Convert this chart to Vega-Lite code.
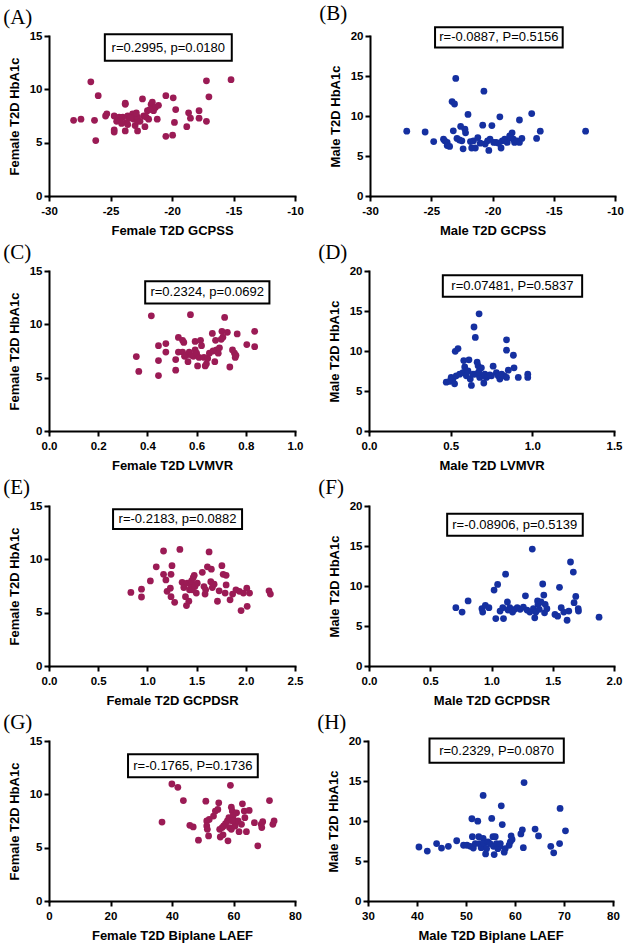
{
  "$schema": "https://vega.github.io/schema/vega-lite/v6.json",
  "padding": {"left": 3, "top": 3, "right": 2, "bottom": 2},
  "background": "white",
  "config": {
    "view": {"stroke": null},
    "font": "Liberation Sans",
    "axis": {"grid": false, "domainColor": "black", "domainWidth": 2, "domainCap": "square", "tickColor": "black", "tickWidth": 2, "tickSize": 5, "labelFont": "Liberation Sans", "labelFontSize": 11.5, "labelFontWeight": "bold", "labelColor": "black", "labelPadding": 2, "titleFont": "Liberation Sans", "titleFontSize": 13, "titleFontWeight": "bold", "titleColor": "black", "labelFlush": false, "labelOverlap": false},
    "axisX": {"titlePadding": 8, "labelPadding": 4},
    "axisY": {"titlePadding": 8},
    "title": {"font": "Liberation Serif", "fontSize": 21, "fontWeight": "normal", "color": "black", "anchor": "start", "frame": "bounds", "offset": 2}
  },
  "datasets": {
    "A": [{"x":-28.0,"y":7.1},{"x":-27.4,"y":7.2},{"x":-26.6,"y":10.7},{"x":-26.3,"y":7.1},{"x":-26.2,"y":5.2},{"x":-26.0,"y":9.4},{"x":-25.4,"y":7.5},{"x":-25.3,"y":7.7},{"x":-24.7,"y":7.5},{"x":-24.7,"y":6.2},{"x":-24.7,"y":6.0},{"x":-24.3,"y":7.4},{"x":-24.2,"y":7.1},{"x":-24.0,"y":7.4},{"x":-23.8,"y":8.7},{"x":-23.8,"y":8.6},{"x":-23.8,"y":6.1},{"x":-23.7,"y":6.9},{"x":-23.6,"y":6.7},{"x":-23.6,"y":7.5},{"x":-23.2,"y":7.7},{"x":-23.1,"y":7.2},{"x":-23.0,"y":7.5},{"x":-23.0,"y":6.6},{"x":-22.8,"y":6.1},{"x":-22.8,"y":7.0},{"x":-22.8,"y":7.4},{"x":-22.4,"y":9.1},{"x":-22.3,"y":7.5},{"x":-22.2,"y":6.5},{"x":-22.1,"y":7.4},{"x":-22.0,"y":8.0},{"x":-21.9,"y":7.2},{"x":-21.7,"y":8.6},{"x":-21.6,"y":8.8},{"x":-21.5,"y":8.0},{"x":-21.35,"y":8.3},{"x":-21.2,"y":7.2},{"x":-21.1,"y":8.5},{"x":-20.5,"y":9.4},{"x":-20.5,"y":5.6},{"x":-19.95,"y":5.7},{"x":-19.9,"y":9.2},{"x":-19.8,"y":6.9},{"x":-19.7,"y":8.1},{"x":-18.8,"y":6.5},{"x":-18.65,"y":7.8},{"x":-18.5,"y":7.3},{"x":-17.8,"y":8.0},{"x":-17.8,"y":7.3},{"x":-17.2,"y":10.8},{"x":-17.2,"y":7.0},{"x":-17.0,"y":9.3},{"x":-15.2,"y":10.9},{"x":-24.5,"y":7.0},{"x":-23.4,"y":7.3},{"x":-22.6,"y":7.0},{"x":-24.1,"y":6.8},{"x":-22.9,"y":7.8},{"x":-21.8,"y":8.1}],
    "B": [{"x":-27.0,"y":8.1},{"x":-25.5,"y":8.0},{"x":-24.8,"y":6.8},{"x":-24.0,"y":7.1},{"x":-23.9,"y":6.9},{"x":-23.7,"y":6.7},{"x":-23.7,"y":6.3},{"x":-23.5,"y":6.2},{"x":-23.3,"y":11.8},{"x":-23.1,"y":11.5},{"x":-23.2,"y":8.15},{"x":-23.0,"y":14.7},{"x":-22.9,"y":7.2},{"x":-22.6,"y":8.7},{"x":-22.5,"y":6.9},{"x":-22.4,"y":5.9},{"x":-22.25,"y":8.35},{"x":-22.2,"y":7.9},{"x":-22.0,"y":10.2},{"x":-21.8,"y":6.8},{"x":-21.7,"y":6.0},{"x":-21.55,"y":6.9},{"x":-21.4,"y":6.0},{"x":-21.2,"y":7.3},{"x":-20.8,"y":8.85},{"x":-20.7,"y":13.1},{"x":-20.6,"y":6.5},{"x":-20.3,"y":5.7},{"x":-20.2,"y":7.1},{"x":-20.05,"y":8.8},{"x":-19.9,"y":6.7},{"x":-19.7,"y":6.7},{"x":-19.4,"y":9.9},{"x":-19.3,"y":6.0},{"x":-19.2,"y":6.9},{"x":-19.0,"y":7.1},{"x":-18.8,"y":6.7},{"x":-18.6,"y":7.5},{"x":-18.4,"y":7.9},{"x":-18.3,"y":7.1},{"x":-18.2,"y":6.7},{"x":-18.0,"y":6.9},{"x":-17.8,"y":9.5},{"x":-17.8,"y":6.7},{"x":-17.6,"y":7.2},{"x":-16.8,"y":10.3},{"x":-16.4,"y":7.2},{"x":-16.1,"y":8.1},{"x":-12.4,"y":8.1},{"x":-21.0,"y":6.6},{"x":-19.5,"y":6.6},{"x":-18.5,"y":7.3},{"x":-22.7,"y":7.0},{"x":-20.4,"y":6.9}],
    "C": [{"x":0.355,"y":6.98},{"x":0.365,"y":5.58},{"x":0.416,"y":10.8},{"x":0.445,"y":8.0},{"x":0.445,"y":6.6},{"x":0.445,"y":5.2},{"x":0.475,"y":8.2},{"x":0.475,"y":7.4},{"x":0.515,"y":6.7},{"x":0.515,"y":5.7},{"x":0.526,"y":8.77},{"x":0.526,"y":7.4},{"x":0.543,"y":8.5},{"x":0.548,"y":8.3},{"x":0.543,"y":7.4},{"x":0.551,"y":7.0},{"x":0.558,"y":7.1},{"x":0.565,"y":6.5},{"x":0.57,"y":7.4},{"x":0.575,"y":10.9},{"x":0.58,"y":7.1},{"x":0.587,"y":7.0},{"x":0.594,"y":8.4},{"x":0.594,"y":7.6},{"x":0.6,"y":7.3},{"x":0.604,"y":6.1},{"x":0.61,"y":6.9},{"x":0.616,"y":8.5},{"x":0.62,"y":8.0},{"x":0.63,"y":6.9},{"x":0.635,"y":6.1},{"x":0.64,"y":6.3},{"x":0.645,"y":6.8},{"x":0.652,"y":7.3},{"x":0.664,"y":9.15},{"x":0.667,"y":7.5},{"x":0.674,"y":6.5},{"x":0.677,"y":8.5},{"x":0.681,"y":7.6},{"x":0.688,"y":7.3},{"x":0.693,"y":7.8},{"x":0.7,"y":8.6},{"x":0.703,"y":9.35},{"x":0.707,"y":8.8},{"x":0.714,"y":10.65},{"x":0.725,"y":9.25},{"x":0.735,"y":6.0},{"x":0.746,"y":7.6},{"x":0.754,"y":7.3},{"x":0.757,"y":6.9},{"x":0.765,"y":9.1},{"x":0.76,"y":7.1},{"x":0.804,"y":8.1},{"x":0.836,"y":9.35},{"x":0.836,"y":7.9}],
    "D": [{"x":0.473,"y":6.1},{"x":0.493,"y":6.2},{"x":0.503,"y":6.7},{"x":0.514,"y":6.5},{"x":0.524,"y":5.9},{"x":0.528,"y":9.96},{"x":0.545,"y":10.3},{"x":0.534,"y":6.9},{"x":0.555,"y":7.1},{"x":0.575,"y":7.3},{"x":0.58,"y":8.8},{"x":0.586,"y":8.0},{"x":0.596,"y":6.9},{"x":0.606,"y":7.5},{"x":0.612,"y":8.9},{"x":0.62,"y":6.5},{"x":0.627,"y":5.7},{"x":0.637,"y":7.1},{"x":0.643,"y":13.0},{"x":0.651,"y":11.7},{"x":0.651,"y":7.1},{"x":0.662,"y":8.6},{"x":0.668,"y":8.15},{"x":0.674,"y":14.65},{"x":0.678,"y":6.7},{"x":0.688,"y":7.9},{"x":0.699,"y":6.9},{"x":0.703,"y":6.0},{"x":0.709,"y":7.1},{"x":0.719,"y":6.7},{"x":0.729,"y":6.9},{"x":0.75,"y":6.9},{"x":0.76,"y":8.1},{"x":0.78,"y":7.3},{"x":0.791,"y":6.9},{"x":0.801,"y":6.5},{"x":0.812,"y":7.1},{"x":0.828,"y":6.9},{"x":0.842,"y":11.4},{"x":0.842,"y":10.1},{"x":0.853,"y":7.6},{"x":0.884,"y":9.47},{"x":0.888,"y":7.9},{"x":0.914,"y":6.7},{"x":0.972,"y":7.1},{"x":0.972,"y":6.7},{"x":0.842,"y":6.7},{"x":0.672,"y":7.4},{"x":0.74,"y":7.0}],
    "E": [{"x":0.832,"y":6.9},{"x":0.94,"y":7.2},{"x":0.94,"y":6.47},{"x":1.03,"y":7.98},{"x":1.09,"y":9.3},{"x":1.164,"y":10.78},{"x":1.164,"y":8.6},{"x":1.188,"y":8.07},{"x":1.2,"y":7.0},{"x":1.233,"y":7.3},{"x":1.24,"y":8.6},{"x":1.25,"y":9.4},{"x":1.24,"y":6.5},{"x":1.277,"y":5.97},{"x":1.33,"y":10.93},{"x":1.353,"y":7.85},{"x":1.37,"y":7.36},{"x":1.387,"y":6.5},{"x":1.397,"y":5.67},{"x":1.404,"y":7.76},{"x":1.421,"y":6.07},{"x":1.428,"y":7.14},{"x":1.438,"y":7.67},{"x":1.449,"y":7.98},{"x":1.455,"y":7.14},{"x":1.466,"y":8.29},{"x":1.476,"y":8.5},{"x":1.483,"y":7.45},{"x":1.497,"y":6.84},{"x":1.507,"y":7.76},{"x":1.558,"y":8.78},{"x":1.575,"y":7.45},{"x":1.586,"y":6.74},{"x":1.592,"y":7.14},{"x":1.61,"y":9.3},{"x":1.627,"y":10.69},{"x":1.644,"y":7.9},{"x":1.65,"y":9.08},{"x":1.66,"y":7.36},{"x":1.678,"y":7.67},{"x":1.712,"y":6.07},{"x":1.729,"y":7.05},{"x":1.757,"y":9.4},{"x":1.77,"y":8.6},{"x":1.8,"y":8.5},{"x":1.8,"y":7.6},{"x":1.79,"y":6.84},{"x":1.84,"y":6.2},{"x":1.866,"y":6.74},{"x":1.9,"y":7.14},{"x":1.935,"y":7.0},{"x":1.952,"y":5.2},{"x":1.976,"y":6.84},{"x":2.01,"y":7.3},{"x":2.014,"y":5.6},{"x":2.038,"y":6.84},{"x":2.236,"y":7.05},{"x":2.25,"y":6.74}],
    "F": [{"x":0.709,"y":7.29},{"x":0.76,"y":6.74},{"x":0.809,"y":8.14},{"x":0.922,"y":7.16},{"x":0.928,"y":6.74},{"x":0.95,"y":7.58},{"x":0.979,"y":7.29},{"x":1.021,"y":9.49},{"x":1.05,"y":10.2},{"x":1.035,"y":5.93},{"x":1.07,"y":6.86},{"x":1.092,"y":7.29},{"x":1.098,"y":5.93},{"x":1.115,"y":11.48},{"x":1.13,"y":8.0},{"x":1.135,"y":6.99},{"x":1.149,"y":7.29},{"x":1.172,"y":6.74},{"x":1.19,"y":7.08},{"x":1.21,"y":7.29},{"x":1.234,"y":7.08},{"x":1.26,"y":7.37},{"x":1.277,"y":8.77},{"x":1.29,"y":6.99},{"x":1.313,"y":6.74},{"x":1.333,"y":14.62},{"x":1.342,"y":7.16},{"x":1.353,"y":6.02},{"x":1.362,"y":6.74},{"x":1.376,"y":8.14},{"x":1.38,"y":7.71},{"x":1.39,"y":7.08},{"x":1.404,"y":8.0},{"x":1.418,"y":10.25},{"x":1.427,"y":8.86},{"x":1.433,"y":6.65},{"x":1.438,"y":7.71},{"x":1.452,"y":7.16},{"x":1.518,"y":6.44},{"x":1.54,"y":6.23},{"x":1.555,"y":9.83},{"x":1.569,"y":7.29},{"x":1.59,"y":6.74},{"x":1.617,"y":5.72},{"x":1.631,"y":6.86},{"x":1.645,"y":13.0},{"x":1.668,"y":11.74},{"x":1.674,"y":7.92},{"x":1.688,"y":8.69},{"x":1.708,"y":7.16},{"x":1.71,"y":6.86},{"x":1.878,"y":6.1}],
    "G": [{"x":36.75,"y":7.4},{"x":39.96,"y":10.97},{"x":41.9,"y":10.66},{"x":43.7,"y":9.42},{"x":45.8,"y":7.1},{"x":46.9,"y":6.94},{"x":48.6,"y":5.7},{"x":51.0,"y":9.36},{"x":51.3,"y":7.5},{"x":51.3,"y":7.03},{"x":51.5,"y":6.72},{"x":51.9,"y":6.1},{"x":52.1,"y":7.65},{"x":53.5,"y":7.96},{"x":54.1,"y":8.43},{"x":54.9,"y":8.58},{"x":55.2,"y":9.2},{"x":55.5,"y":6.72},{"x":55.7,"y":6.0},{"x":56.3,"y":6.88},{"x":56.6,"y":6.2},{"x":56.8,"y":7.03},{"x":57.4,"y":7.25},{"x":58.0,"y":7.5},{"x":58.2,"y":5.64},{"x":58.5,"y":7.81},{"x":58.7,"y":6.88},{"x":59.0,"y":10.85},{"x":59.3,"y":8.8},{"x":59.3,"y":6.72},{"x":59.6,"y":8.43},{"x":59.9,"y":8.0},{"x":60.2,"y":7.5},{"x":60.5,"y":7.03},{"x":61.0,"y":8.27},{"x":61.5,"y":7.5},{"x":61.8,"y":6.5},{"x":62.6,"y":7.19},{"x":62.9,"y":9.11},{"x":63.5,"y":8.43},{"x":63.7,"y":7.81},{"x":64.2,"y":6.5},{"x":65.1,"y":8.49},{"x":66.8,"y":7.34},{"x":67.9,"y":5.17},{"x":69.0,"y":7.19},{"x":69.2,"y":6.88},{"x":69.5,"y":7.44},{"x":71.7,"y":9.42},{"x":72.8,"y":7.19},{"x":73.2,"y":7.5},{"x":59.6,"y":7.5}],
    "H": [{"x":40.4,"y":6.75},{"x":42.1,"y":6.24},{"x":44.0,"y":7.18},{"x":45.0,"y":6.62},{"x":46.4,"y":6.84},{"x":48.1,"y":7.53},{"x":49.5,"y":6.97},{"x":50.2,"y":6.97},{"x":50.9,"y":6.84},{"x":51.2,"y":10.28},{"x":51.3,"y":8.04},{"x":51.5,"y":6.62},{"x":51.9,"y":7.18},{"x":52.4,"y":9.98},{"x":52.6,"y":8.04},{"x":52.7,"y":7.18},{"x":53.1,"y":6.67},{"x":53.5,"y":13.2},{"x":53.5,"y":7.83},{"x":53.7,"y":7.18},{"x":54.0,"y":5.89},{"x":54.2,"y":6.54},{"x":54.5,"y":7.4},{"x":54.9,"y":7.18},{"x":55.25,"y":10.32},{"x":55.5,"y":8.04},{"x":55.6,"y":6.84},{"x":55.75,"y":5.81},{"x":55.97,"y":8.04},{"x":56.2,"y":7.18},{"x":56.5,"y":6.54},{"x":56.9,"y":6.84},{"x":57.2,"y":11.9},{"x":57.4,"y":9.55},{"x":57.8,"y":6.1},{"x":58.0,"y":6.54},{"x":58.8,"y":6.97},{"x":59.05,"y":7.4},{"x":59.2,"y":8.13},{"x":59.4,"y":7.7},{"x":61.2,"y":8.39},{"x":61.5,"y":8.9},{"x":61.7,"y":6.67},{"x":61.85,"y":14.8},{"x":64.1,"y":8.99},{"x":64.8,"y":8.13},{"x":67.3,"y":6.84},{"x":67.9,"y":6.02},{"x":69.1,"y":7.18},{"x":69.2,"y":11.57},{"x":70.3,"y":8.77},{"x":57.0,"y":7.18}]
  },
  "spacing": 4,
  "vconcat": [
    {"spacing": 15, "hconcat": [
      {"width": 246, "height": 160, "title": {"text": "(A)", "dx": -5},
       "layer": [
        {"data": {"values": [{}]}, "mark": {"type": "rect", "fill": "white", "stroke": "black", "strokeWidth": 2}, "encoding": {"x": {"datum": -25.46, "type": "quantitative"}, "x2": {"datum": -15.14}, "y": {"datum": 15.16, "type": "quantitative"}, "y2": {"datum": 12.67}}},
        {"data": {"values": [{}]}, "mark": {"type": "text", "fontSize": 13, "font": "Liberation Sans", "color": "black"}, "encoding": {"x": {"datum": -20.3, "type": "quantitative"}, "y": {"datum": 13.9, "type": "quantitative"}, "text": {"value": "r=0.2995, p=0.0180"}}},
        {"data": {"name": "A"}, "mark": {"type": "circle", "size": 46, "opacity": 1, "color": "#9B1B55"}, "encoding": {
          "x": {"field": "x", "type": "quantitative", "scale": {"domain": [-30, -10], "nice": false, "zero": false}, "axis": {"title": "Female T2D GCPSS", "values": [-30, -25, -20, -15, -10], "labelExpr": "replace(datum.label, '\u2212', '-')"}},
          "y": {"field": "y", "type": "quantitative", "scale": {"domain": [0, 15], "nice": false}, "axis": {"title": "Female T2D HbA1c", "values": [0, 5, 10, 15], "labelOverlap": false}}}}
       ]},
      {"width": 245, "height": 160, "title": {"text": "(B)", "dx": -10},
       "layer": [
        {"data": {"values": [{}]}, "mark": {"type": "rect", "fill": "white", "stroke": "black", "strokeWidth": 2}, "encoding": {"x": {"datum": -24.69, "type": "quantitative"}, "x2": {"datum": -14.27}, "y": {"datum": 21.1, "type": "quantitative"}, "y2": {"datum": 18.56}}},
        {"data": {"values": [{}]}, "mark": {"type": "text", "fontSize": 13, "font": "Liberation Sans", "color": "black"}, "encoding": {"x": {"datum": -19.48, "type": "quantitative"}, "y": {"datum": 19.83, "type": "quantitative"}, "text": {"value": "r=-0.0887, P=0.5156"}}},
        {"data": {"name": "B"}, "mark": {"type": "circle", "size": 46, "opacity": 1, "color": "#1530A0"}, "encoding": {
          "x": {"field": "x", "type": "quantitative", "scale": {"domain": [-30, -10], "nice": false, "zero": false}, "axis": {"title": "Male T2D GCPSS", "values": [-30, -25, -20, -15, -10], "labelExpr": "replace(datum.label, '\u2212', '-')"}},
          "y": {"field": "y", "type": "quantitative", "scale": {"domain": [0, 20], "nice": false}, "axis": {"title": "Male T2D HbA1c", "values": [0, 5, 10, 15, 20], "tickCount": 5, "labelOverlap": false}}}}
       ]}
    ]},
    {"spacing": 15, "hconcat": [
      {"width": 246, "height": 160, "title": {"text": "(C)", "dx": -5},
       "layer": [
        {"data": {"values": [{}]}, "mark": {"type": "rect", "fill": "white", "stroke": "black", "strokeWidth": 2}, "encoding": {"x": {"datum": 0.391, "type": "quantitative"}, "x2": {"datum": 0.896}, "y": {"datum": 14.03, "type": "quantitative"}, "y2": {"datum": 11.95}}},
        {"data": {"values": [{}]}, "mark": {"type": "text", "fontSize": 13, "font": "Liberation Sans", "color": "black"}, "encoding": {"x": {"datum": 0.643, "type": "quantitative"}, "y": {"datum": 12.99, "type": "quantitative"}, "text": {"value": "r=0.2324, p=0.0692"}}},
        {"data": {"name": "C"}, "mark": {"type": "circle", "size": 46, "opacity": 1, "color": "#9B1B55"}, "encoding": {
          "x": {"field": "x", "type": "quantitative", "scale": {"domain": [0, 1], "nice": false}, "axis": {"title": "Female T2D LVMVR", "values": [0, 0.2, 0.4, 0.6, 0.8, 1.0], "format": ".1f"}},
          "y": {"field": "y", "type": "quantitative", "scale": {"domain": [0, 15], "nice": false}, "axis": {"title": "Female T2D HbA1c", "values": [0, 5, 10, 15], "labelOverlap": false}}}}
       ]},
      {"width": 245, "height": 160, "title": {"text": "(D)", "dx": -10},
       "layer": [
        {"data": {"values": [{}]}, "mark": {"type": "rect", "fill": "white", "stroke": "black", "strokeWidth": 2}, "encoding": {"x": {"datum": 0.452, "type": "quantitative"}, "x2": {"datum": 1.305}, "y": {"datum": 19.47, "type": "quantitative"}, "y2": {"datum": 16.79}}},
        {"data": {"values": [{}]}, "mark": {"type": "text", "fontSize": 13, "font": "Liberation Sans", "color": "black"}, "encoding": {"x": {"datum": 0.878, "type": "quantitative"}, "y": {"datum": 18.13, "type": "quantitative"}, "text": {"value": "r=0.07481, P=0.5837"}}},
        {"data": {"name": "D"}, "mark": {"type": "circle", "size": 46, "opacity": 1, "color": "#1530A0"}, "encoding": {
          "x": {"field": "x", "type": "quantitative", "scale": {"domain": [0, 1.5], "nice": false}, "axis": {"title": "Male T2D LVMVR", "values": [0, 0.5, 1.0, 1.5], "format": ".1f"}},
          "y": {"field": "y", "type": "quantitative", "scale": {"domain": [0, 20], "nice": false}, "axis": {"title": "Male T2D HbA1c", "values": [0, 5, 10, 15, 20], "tickCount": 5, "labelOverlap": false}}}}
       ]}
    ]},
    {"spacing": 15, "hconcat": [
      {"width": 246, "height": 160, "title": {"text": "(E)", "dx": -5},
       "layer": [
        {"data": {"values": [{}]}, "mark": {"type": "rect", "fill": "white", "stroke": "black", "strokeWidth": 2}, "encoding": {"x": {"datum": 0.651, "type": "quantitative"}, "x2": {"datum": 1.962}, "y": {"datum": 14.69, "type": "quantitative"}, "y2": {"datum": 12.84}}},
        {"data": {"values": [{}]}, "mark": {"type": "text", "fontSize": 13, "font": "Liberation Sans", "color": "black"}, "encoding": {"x": {"datum": 1.306, "type": "quantitative"}, "y": {"datum": 13.77, "type": "quantitative"}, "text": {"value": "r=-0.2183, p=0.0882"}}},
        {"data": {"name": "E"}, "mark": {"type": "circle", "size": 46, "opacity": 1, "color": "#9B1B55"}, "encoding": {
          "x": {"field": "x", "type": "quantitative", "scale": {"domain": [0, 2.5], "nice": false}, "axis": {"title": "Female T2D GCPDSR", "values": [0, 0.5, 1.0, 1.5, 2.0, 2.5], "format": ".1f"}},
          "y": {"field": "y", "type": "quantitative", "scale": {"domain": [0, 15], "nice": false}, "axis": {"title": "Female T2D HbA1c", "values": [0, 5, 10, 15], "labelOverlap": false}}}}
       ]},
      {"width": 245, "height": 160, "title": {"text": "(F)", "dx": -10},
       "layer": [
        {"data": {"values": [{}]}, "mark": {"type": "rect", "fill": "white", "stroke": "black", "strokeWidth": 2}, "encoding": {"x": {"datum": 0.638, "type": "quantitative"}, "x2": {"datum": 1.745}, "y": {"datum": 19.03, "type": "quantitative"}, "y2": {"datum": 16.27}}},
        {"data": {"values": [{}]}, "mark": {"type": "text", "fontSize": 13, "font": "Liberation Sans", "color": "black"}, "encoding": {"x": {"datum": 1.19, "type": "quantitative"}, "y": {"datum": 17.65, "type": "quantitative"}, "text": {"value": "r=-0.08906, p=0.5139"}}},
        {"data": {"name": "F"}, "mark": {"type": "circle", "size": 46, "opacity": 1, "color": "#1530A0"}, "encoding": {
          "x": {"field": "x", "type": "quantitative", "scale": {"domain": [0, 2], "nice": false}, "axis": {"title": "Male T2D GCPDSR", "values": [0, 0.5, 1.0, 1.5, 2.0], "format": ".1f"}},
          "y": {"field": "y", "type": "quantitative", "scale": {"domain": [0, 20], "nice": false}, "axis": {"title": "Male T2D HbA1c", "values": [0, 5, 10, 15, 20], "tickCount": 5, "labelOverlap": false}}}}
       ]}
    ]},
    {"spacing": 15, "hconcat": [
      {"width": 246, "height": 160, "title": {"text": "(G)", "dx": -5},
       "layer": [
        {"data": {"values": [{}]}, "mark": {"type": "rect", "fill": "white", "stroke": "black", "strokeWidth": 2}, "encoding": {"x": {"datum": 25.7, "type": "quantitative"}, "x2": {"datum": 67.9}, "y": {"datum": 13.76, "type": "quantitative"}, "y2": {"datum": 11.59}}},
        {"data": {"values": [{}]}, "mark": {"type": "text", "fontSize": 13, "font": "Liberation Sans", "color": "black"}, "encoding": {"x": {"datum": 46.8, "type": "quantitative"}, "y": {"datum": 12.68, "type": "quantitative"}, "text": {"value": "r=-0.1765, P=0.1736"}}},
        {"data": {"name": "G"}, "mark": {"type": "circle", "size": 46, "opacity": 1, "color": "#9B1B55"}, "encoding": {
          "x": {"field": "x", "type": "quantitative", "scale": {"domain": [0, 80], "nice": false}, "axis": {"title": "Female T2D Biplane LAEF", "values": [0, 20, 40, 60, 80]}},
          "y": {"field": "y", "type": "quantitative", "scale": {"domain": [0, 15], "nice": false}, "axis": {"title": "Female T2D HbA1c", "values": [0, 5, 10, 15], "labelOverlap": false}}}}
       ]},
      {"width": 245, "height": 160, "title": {"text": "(H)", "dx": -10},
       "layer": [
        {"data": {"values": [{}]}, "mark": {"type": "rect", "fill": "white", "stroke": "black", "strokeWidth": 2}, "encoding": {"x": {"datum": 42.55, "type": "quantitative"}, "x2": {"datum": 69.96}, "y": {"datum": 20.3, "type": "quantitative"}, "y2": {"datum": 17.29}}},
        {"data": {"values": [{}]}, "mark": {"type": "text", "fontSize": 13, "font": "Liberation Sans", "color": "black"}, "encoding": {"x": {"datum": 56.25, "type": "quantitative"}, "y": {"datum": 18.8, "type": "quantitative"}, "text": {"value": "r=0.2329, P=0.0870"}}},
        {"data": {"name": "H"}, "mark": {"type": "circle", "size": 46, "opacity": 1, "color": "#1530A0"}, "encoding": {
          "x": {"field": "x", "type": "quantitative", "scale": {"domain": [30, 80], "nice": false, "zero": false}, "axis": {"title": "Male T2D Biplane LAEF", "values": [30, 40, 50, 60, 70, 80]}},
          "y": {"field": "y", "type": "quantitative", "scale": {"domain": [0, 20], "nice": false}, "axis": {"title": "Male T2D HbA1c", "values": [0, 5, 10, 15, 20], "tickCount": 5, "labelOverlap": false}}}}
       ]}
    ]}
  ]
}
